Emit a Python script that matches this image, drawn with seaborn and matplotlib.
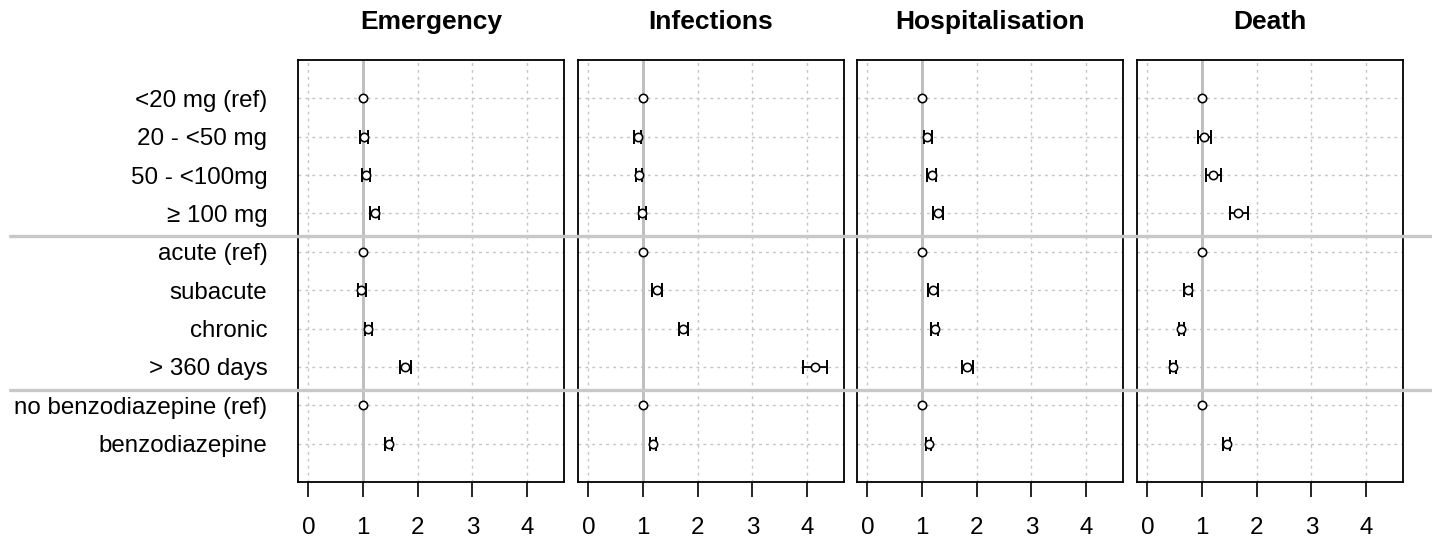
import matplotlib
matplotlib.use("Agg")
import matplotlib.pyplot as plt
import matplotlib.transforms as mtransforms
from matplotlib.lines import Line2D
import seaborn as sns
import pandas as pd
import numpy as np

sns.set_theme(style="white")
plt.rcParams['font.family'] = ['Liberation Sans', 'DejaVu Sans']
plt.rcParams['text.color'] = 'black'
plt.rcParams['xtick.color'] = 'black'
plt.rcParams['ytick.color'] = 'black'

row_labels = ["<20 mg (ref)", "20 - <50 mg", "50 - <100mg", "\u2265 100 mg",
              "acute (ref)", "subacute", "chronic", "> 360 days",
              "no benzodiazepine (ref)", "benzodiazepine"]
outcomes = ["Emergency", "Infections", "Hospitalisation", "Death"]

emergency_est = [1.00, 1.02, 1.05, 1.22, 1.00, 0.96, 1.09, 1.76, 1.00, 1.47]
emergency_lo  = [1.00, 0.95, 0.98, 1.13, 1.00, 0.90, 1.04, 1.68, 1.00, 1.41]
emergency_hi  = [1.00, 1.09, 1.13, 1.30, 1.00, 1.06, 1.16, 1.87, 1.00, 1.53]

infections_est = [1.00, 0.90, 0.92, 0.99, 1.00, 1.25, 1.73, 4.14, 1.00, 1.18]
infections_lo  = [1.00, 0.84, 0.87, 0.93, 1.00, 1.17, 1.66, 3.93, 1.00, 1.12]
infections_hi  = [1.00, 0.96, 0.98, 1.05, 1.00, 1.35, 1.82, 4.37, 1.00, 1.24]

hosp_est = [1.00, 1.10, 1.18, 1.30, 1.00, 1.20, 1.23, 1.82, 1.00, 1.12]
hosp_lo  = [1.00, 1.04, 1.10, 1.21, 1.00, 1.11, 1.17, 1.73, 1.00, 1.07]
hosp_hi  = [1.00, 1.19, 1.26, 1.39, 1.00, 1.30, 1.30, 1.93, 1.00, 1.17]

death_est = [1.00, 1.04, 1.20, 1.66, 1.00, 0.74, 0.62, 0.47, 1.00, 1.46]
death_lo  = [1.00, 0.93, 1.08, 1.51, 1.00, 0.67, 0.57, 0.42, 1.00, 1.39]
death_hi  = [1.00, 1.16, 1.34, 1.85, 1.00, 0.82, 0.67, 0.52, 1.00, 1.51]

x_ticks = [0, 1, 2, 3, 4]
separators = [4.6, 8.6]

series = {
    "Emergency": (emergency_est, emergency_lo, emergency_hi),
    "Infections": (infections_est, infections_lo, infections_hi),
    "Hospitalisation": (hosp_est, hosp_lo, hosp_hi),
    "Death": (death_est, death_lo, death_hi),
}

W, H = 1432, 539
fig = plt.figure(figsize=(W / 100, H / 100), dpi=100)
lefts = [298, 578, 857, 1137]
pw = 266
top, bottom = 60, 482

rows = np.arange(1, len(row_labels) + 1)
axes = []
for i, name in enumerate(outcomes):
    ax = fig.add_axes([lefts[i] / W, 1 - bottom / H, pw / W, (bottom - top) / H])
    axes.append(ax)
    est, lo, hi = series[name]
    df = pd.DataFrame({"row": rows, "est": est, "lo": lo, "hi": hi, "label": row_labels})
    ax.set_xlim(-0.19, 4.68)
    ax.set_ylim(11, 0)
    # grid
    for xt in x_ticks:
        ax.axvline(xt, color="#c4c4c4", lw=1.0, ls=(0, (2, 3)), zorder=0)
    for r in rows:
        ax.axhline(r, color="#c4c4c4", lw=1.0, ls=(0, (2, 3)), zorder=0)
    ax.axvline(1, color="#bebebe", lw=2.1, zorder=1)
    # CI
    nonref = df[df["lo"] != df["hi"]]
    ax.errorbar(nonref["est"], nonref["row"],
                xerr=[nonref["est"] - nonref["lo"], nonref["hi"] - nonref["est"]],
                fmt="none", ecolor="black", elinewidth=1.3, capsize=5.2, capthick=1.4, zorder=2)
    sns.scatterplot(data=df, x="est", y="row", ax=ax, marker="o", s=36,
                    facecolor="white", edgecolor="black", linewidth=1.15, zorder=3, legend=False)
    ax.set_xlabel("")
    ax.set_ylabel("")
    ax.set_xticks(x_ticks)
    ax.set_xticklabels([str(t) for t in x_ticks], fontsize=17.4)
    ax.tick_params(axis="x", bottom=True, length=11, width=1.2, color="black", pad=14.5)
    ax.set_yticks(rows)
    if i == 0:
        ax.set_yticklabels(row_labels, fontsize=17.4, va="center_baseline")
        ax.tick_params(axis="y", left=False, length=0, pad=22)
    else:
        ax.set_yticklabels([])
        ax.tick_params(axis="y", left=False, length=0)
    for sp in ax.spines.values():
        sp.set_color("black")
        sp.set_linewidth(1.3)
    ax.set_title(name, fontsize=19, fontweight="bold", pad=22, color="black")

# horizontal separators across the whole figure
trans = mtransforms.blended_transform_factory(fig.transFigure, axes[0].transData)
for s in separators:
    fig.add_artist(Line2D([10 / W, 1], [s, s], transform=trans, color="#c8c8c8", lw=2.4, zorder=5))

fig.savefig("out.png", dpi=100)
